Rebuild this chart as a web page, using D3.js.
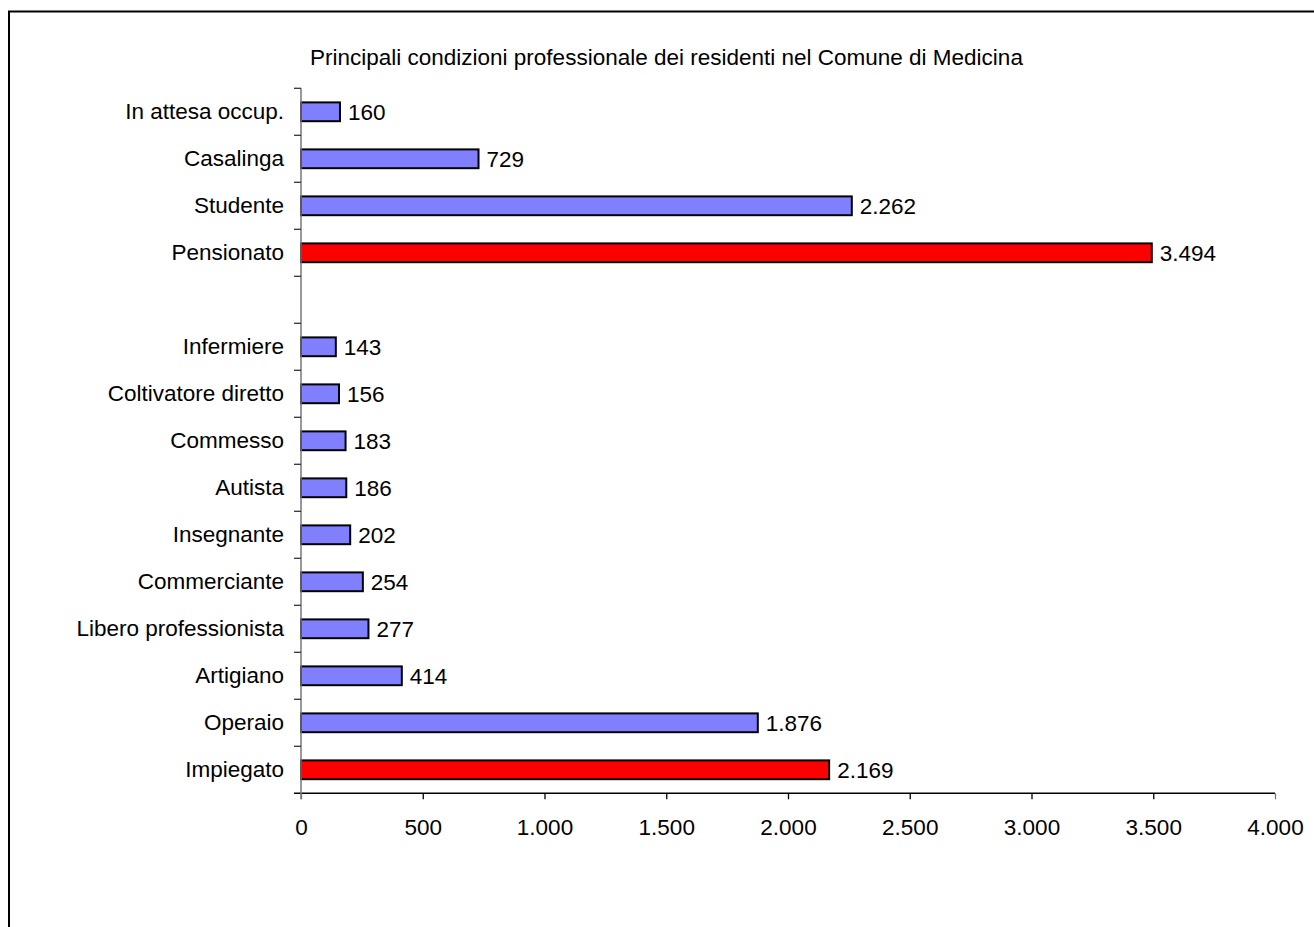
<!DOCTYPE html>
<html>
<head>
<meta charset="utf-8">
<script src="https://cdn.jsdelivr.net/npm/d3@7"></script>
<style>
  html, body { margin: 0; padding: 0; background: #fff; }
  svg { display: block; font-family: "Liberation Sans", Arial, sans-serif; }
</style>
</head>
<body>
<svg id="chart" width="1314" height="927"></svg>
<script>
// ---- data (top to bottom) ----
const categories = [
  "In attesa occup.", "Casalinga", "Studente", "Pensionato", "",
  "Infermiere", "Coltivatore diretto", "Commesso", "Autista", "Insegnante",
  "Commerciante", "Libero professionista", "Artigiano", "Operaio", "Impiegato"
];
const values = [160, 729, 2262, 3494, null, 143, 156, 183, 186, 202, 254, 277, 414, 1876, 2169];
const highlighted = ["Pensionato", "Impiegato"];
const xTicks = [0, 500, 1000, 1500, 2000, 2500, 3000, 3500, 4000];
const title = "Principali condizioni professionale dei residenti nel Comune di Medicina";

(function () {
const itLocale = d3.formatLocale({ decimal: ",", thousands: ".", grouping: [3], currency: ["€", ""] });
const fmt = itLocale.format(",d");

const svg = d3.select("#chart");
const FONT = 22.5;

// outer chart-area border (extends past viewport on right/bottom)
svg.append("rect")
  .attr("x", 9).attr("y", 11.5)
  .attr("width", 1400).attr("height", 1000)
  .attr("fill", "none").attr("stroke", "#000").attr("stroke-width", 2);

const pL = 301, pR = 1275, pT = 88.3, pB = 793.3;

const x = d3.scaleLinear().domain([0, 4000]).range([pL, pR]);
const y = d3.scaleBand().domain(categories.map((c, i) => i)).range([pT, pB])
  .paddingInner(0.6).paddingOuter(0.3);

const data = categories.map((c, i) => ({ cat: c, i, v: values[i] }));

// title
svg.append("text")
  .attr("x", 310).attr("y", 65)
  .attr("font-size", FONT).attr("fill", "#000")
  .text(title);

// bars
svg.append("g").selectAll("rect")
  .data(data.filter(d => d.v != null))
  .join("rect")
  .attr("x", x(0))
  .attr("y", d => y(d.i))
  .attr("width", d => x(d.v) - x(0))
  .attr("height", y.bandwidth())
  .attr("fill", d => highlighted.includes(d.cat) ? "#FF0000" : "#8080FF")
  .attr("stroke", "#000").attr("stroke-width", 2);

// value labels
svg.append("g").selectAll("text")
  .data(data.filter(d => d.v != null))
  .join("text")
  .attr("x", d => x(d.v) + 8)
  .attr("y", d => y(d.i) + y.bandwidth() / 2)
  .attr("dy", "0.35em")
  .attr("font-size", FONT).attr("fill", "#000")
  .text(d => fmt(d.v));

// x axis
const xAxis = d3.axisBottom(x).tickValues(xTicks).tickFormat(fmt).tickSize(6).tickSizeOuter(0).tickPadding(20);
const gx = svg.append("g").attr("transform", `translate(0,${pB})`).call(xAxis);
gx.select(".domain").attr("stroke", "#000").attr("stroke-width", 1.5).attr("d", `M${pL - 7},0H${pR}`);
gx.selectAll(".tick line").attr("stroke", "#000").attr("stroke-width", 1.3);
gx.selectAll(".tick").filter(d => d === 0).select("line").attr("stroke", "#777");
gx.selectAll(".tick").filter(d => d === 4000).select("line").attr("stroke", "#777");
gx.selectAll(".tick text").attr("font-size", FONT).attr("fill", "#000")
  .attr("font-family", "Liberation Sans, Arial, sans-serif");

// y axis (labels at band centers, ticks at band boundaries)
const yAxis = d3.axisLeft(y).tickFormat(i => categories[i]).tickSize(0).tickPadding(17);
const gy = svg.append("g").attr("transform", `translate(${pL},0)`).call(yAxis);
gy.select(".domain").attr("stroke", "#777").attr("stroke-width", 1.5).attr("d", `M0,${pT}V${pB + 6}`);
gy.selectAll(".tick text").attr("font-size", FONT).attr("fill", "#000").attr("dy", "0.33em")
  .attr("font-family", "Liberation Sans, Arial, sans-serif");

const boundaries = d3.range(categories.length).map(i => pT + i * y.step());
gy.append("g").selectAll("line")
  .data(boundaries)
  .join("line")
  .attr("x1", -7).attr("x2", 0)
  .attr("y1", d => d).attr("y2", d => d)
  .attr("stroke", "#333").attr("stroke-width", 1.3);
})();
</script>
</body>
</html>
